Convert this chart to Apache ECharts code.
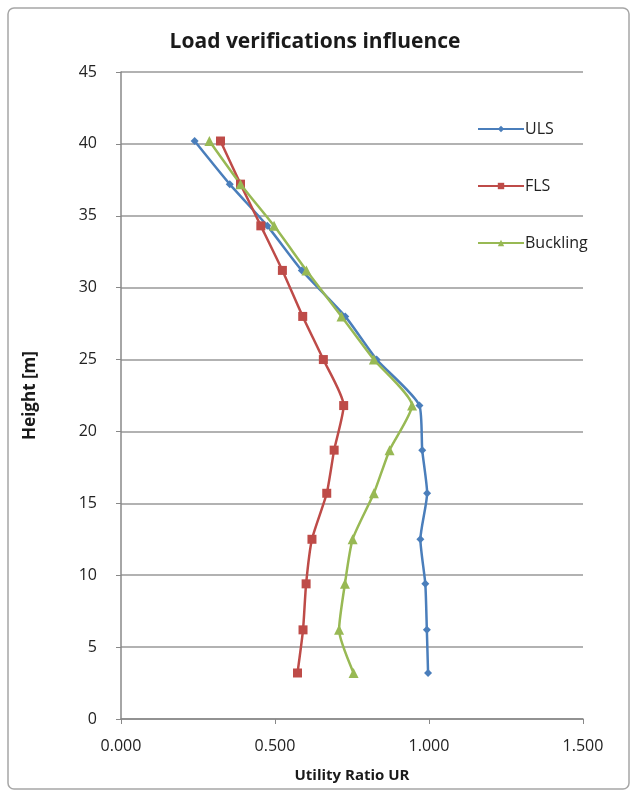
<!DOCTYPE html>
<html><head><meta charset="utf-8">
<script src="https://cdn.jsdelivr.net/npm/echarts@6/dist/echarts.min.js"></script>
<style>html,body{margin:0;padding:0;background:#fff}#c{width:638px;height:798px}</style>
</head><body><div id="c"></div>
<script>
const heights = [3.2, 6.2, 9.4, 12.5, 15.7, 18.7, 21.8, 25.0, 28.0, 31.2, 34.3, 37.2, 40.2];
const ulsValues = [0.997, 0.993, 0.988, 0.972, 0.994, 0.978, 0.969, 0.830, 0.728, 0.587, 0.475, 0.353, 0.239];
const flsValues = [0.573, 0.591, 0.601, 0.620, 0.668, 0.692, 0.723, 0.657, 0.590, 0.524, 0.454, 0.388, 0.323];
const bucklingValues = [0.755, 0.708, 0.727, 0.752, 0.821, 0.872, 0.945, 0.821, 0.716, 0.602, 0.497, 0.388, 0.287];
const seriesNames = ['ULS', 'FLS', 'Buckling'];
const xTicks = [0, 0.5, 1.0, 1.5];
const yTicks = [0, 5, 10, 15, 20, 25, 30, 35, 40, 45];

const chart = echarts.init(document.getElementById('c'), null, {renderer: 'canvas'});
const font = 'Open Sans, Liberation Sans, sans-serif';
function pairs(vals){ return vals.map((v,i)=>[v, heights[i]]); }
const colors = ['#4a7ebb', '#be4b48', '#98b954'];
const symbols = ['diamond', 'rect', 'triangle'];
const sizes = [8, 9, 10];
const datas = [ulsValues, flsValues, bucklingValues];
chart.setOption({
  animation: false,
  graphic: [{type: 'rect', shape: {x: 8, y: 8, width: 621, height: 781, r: 6}, style: {fill: 'none', stroke: '#a6a6a6', lineWidth: 1.5}}],
  title: {text: 'Load verifications influence', left: 310, textAlign: 'center', top: 27,
    textStyle: {fontFamily: font, fontSize: 21, fontWeight: 'bold', color: '#1a1a1a'}},
  legend: {orient: 'vertical', left: 472, top: 116, itemGap: 41, itemWidth: 46, itemHeight: 8,
    data: seriesNames,
    textStyle: {fontFamily: font, fontSize: 16, color: '#222', padding: [0,0,0,-4]}},
  grid: {left: 121, right: 55, top: 72, bottom: 79},
  xAxis: {type: 'value', min: 0, max: 1.5, interval: 0.5,
    name: 'Utility Ratio UR', nameLocation: 'middle', nameGap: 49,
    nameTextStyle: {fontFamily: font, fontSize: 15, fontWeight: 'bold', color: '#1a1a1a'},
    axisLine: {show: true, lineStyle: {color: '#888', width: 1.5}},
    axisTick: {show: true, length: 5, lineStyle: {color: '#888'}},
    axisLabel: {fontFamily: font, fontSize: 16, color: '#222', margin: 19,
      formatter: v => v.toFixed(3)},
    splitLine: {show: false}},
  yAxis: {type: 'value', min: 0, max: 45, interval: 5,
    name: 'Height [m]', nameLocation: 'middle', nameGap: 82, nameRotate: 90,
    nameTextStyle: {fontFamily: font, fontSize: 17, fontWeight: 'bold', color: '#1a1a1a'},
    axisLine: {show: true, lineStyle: {color: '#888', width: 1.5}},
    axisTick: {show: true, length: 5, lineStyle: {color: '#888'}},
    axisLabel: {fontFamily: font, fontSize: 16, color: '#222', margin: 24},
    splitLine: {show: true, lineStyle: {color: '#999', width: 1.5}}},
  series: seriesNames.map((n, i) => ({
    name: n, type: 'line', data: pairs(datas[i]),
    symbol: symbols[i], symbolSize: sizes[i], showAllSymbol: true, smooth: 0.2,
    lineStyle: {color: colors[i], width: 2.5},
    itemStyle: {color: colors[i]}
  }))
});
</script></body></html>
